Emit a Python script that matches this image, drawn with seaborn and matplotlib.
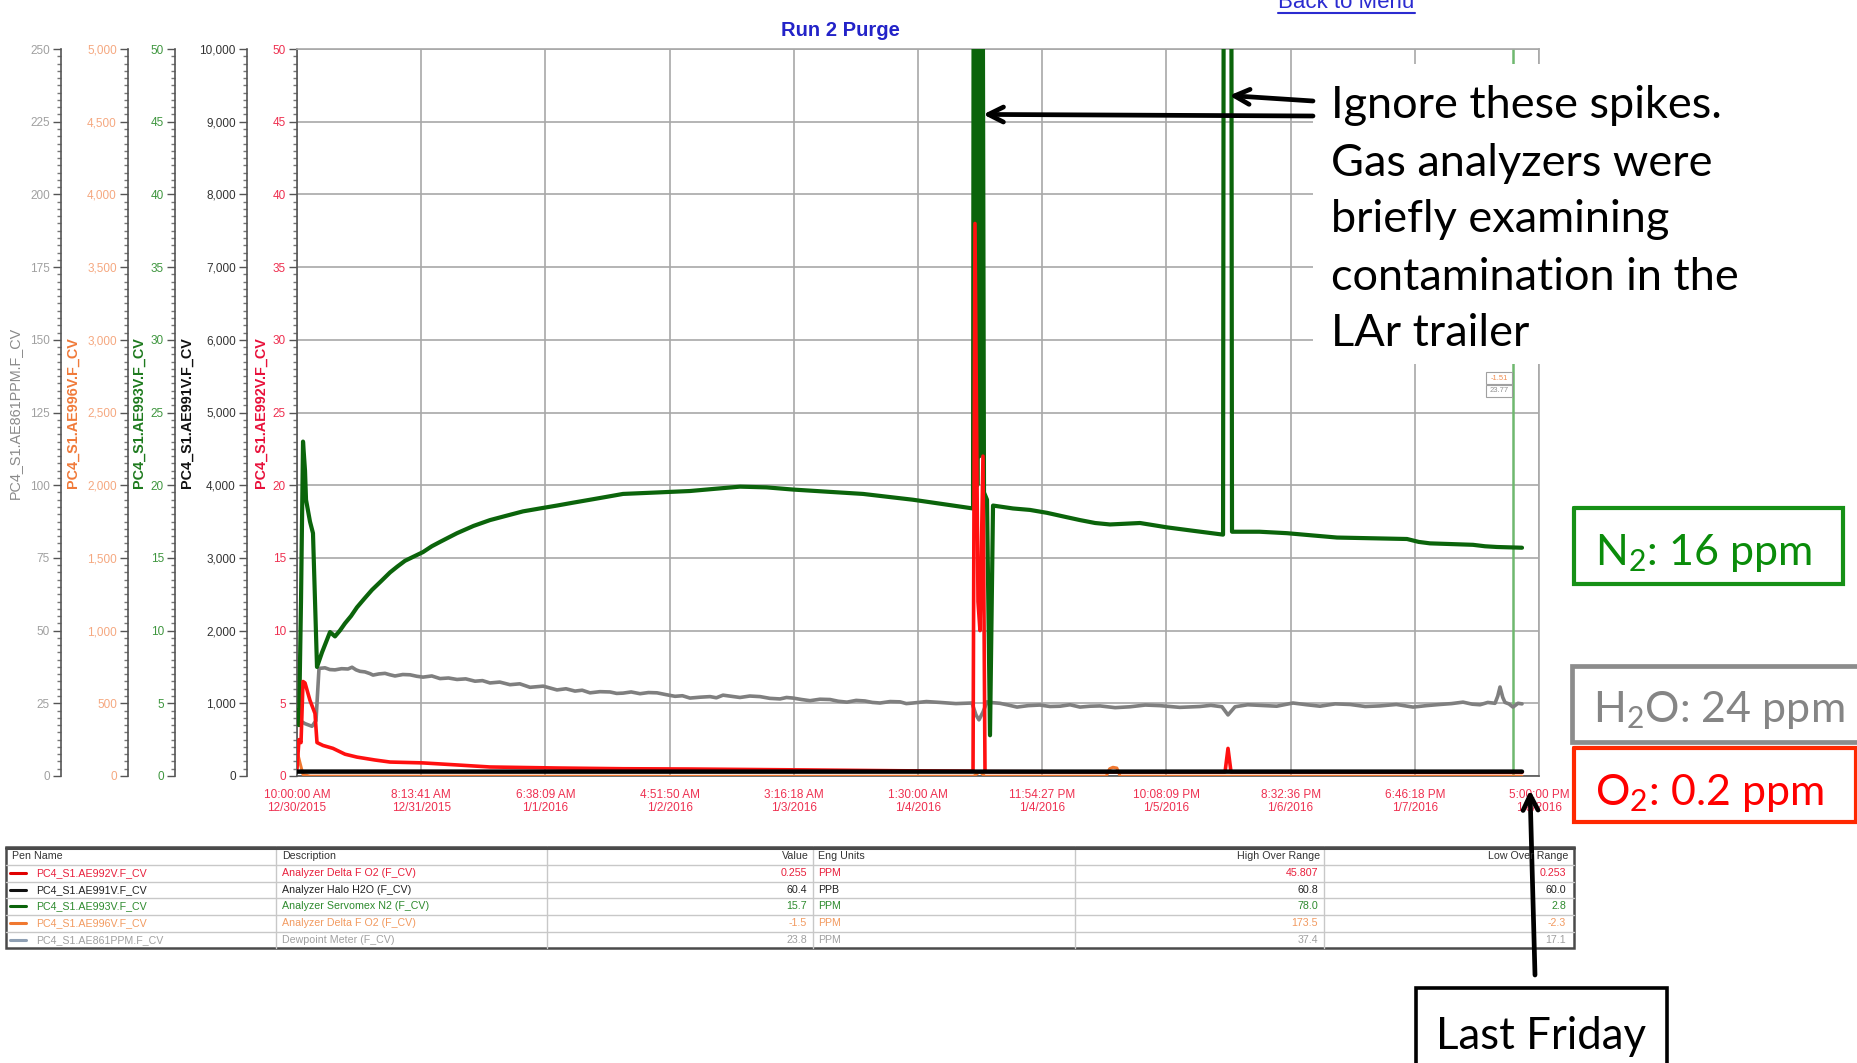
import numpy as np
import pandas as pd
import matplotlib
matplotlib.use("Agg")
import matplotlib.pyplot as plt
import seaborn as sns
from matplotlib import font_manager
from matplotlib.patches import Rectangle
from matplotlib.lines import Line2D
from matplotlib.ticker import MultipleLocator, FuncFormatter

# ------------------------------------------------------------------ data
span_hours = 223.0
x_tick_labels = ["10:00:00 AM\n12/30/2015", "8:13:41 AM\n12/31/2015", "6:38:09 AM\n1/1/2016",
                 "4:51:50 AM\n1/2/2016", "3:16:18 AM\n1/3/2016", "1:30:00 AM\n1/4/2016",
                 "11:54:27 PM\n1/4/2016", "10:08:09 PM\n1/5/2016", "8:32:36 PM\n1/6/2016",
                 "6:46:18 PM\n1/7/2016", "5:00:00 PM\n1/8/2016"]

# N2 (AE993V, ppm, 0-50 axis)
n2_t = [0.0, 0.36, 0.72, 1.08, 1.44, 1.62, 2.33, 2.87, 3.59, 4.49, 5.93, 6.82, 7.7, 8.62, 9.7,
        10.77, 12.1, 13.47, 15.1, 16.70, 18.0, 19.39, 21.0, 22.62, 24.2, 25.68, 27.2, 28.73,
        31.7, 34.65, 37.6, 40.58, 43.6, 46.68, 49.6, 52.61, 55.6, 58.54, 61.6, 64.64, 67.6,
        70.56, 75.0, 79.54, 84.3, 89.06, 95.3, 101.63, 106.1, 110.60, 116.0, 121.38,
        121.55, 121.75, 121.95, 122.15, 122.35, 122.55, 122.75, 122.99, 123.35, 123.89, 124.43,
        124.97, 128.56, 131.6, 134.66, 137.6, 140.59, 143.3, 145.97, 148.7, 151.36, 153.8,
        156.21, 161.2, 166.27, 166.45, 166.7, 166.9, 167.1, 167.3, 167.5, 167.7, 167.88,
        172.8, 177.75, 182.2, 186.73, 193.0, 199.30, 201.4, 203.43, 207.3, 211.15, 213.3,
        215.46, 219.95]
n2_ppm = [4.5, 3.5, 12.0, 23.0, 21.0, 19.0, 17.5, 16.7, 7.5, 8.5, 9.9, 9.6, 10.0, 10.5, 11.0,
          11.6, 12.2, 12.8, 13.4, 14.0, 14.4, 14.8, 15.1, 15.4, 15.8, 16.1, 16.4, 16.7,
          17.2, 17.6, 17.9, 18.2, 18.4, 18.6, 18.8, 19.0, 19.2, 19.4, 19.45, 19.5, 19.55,
          19.6, 19.75, 19.9, 19.85, 19.7, 19.55, 19.4, 19.2, 19.0, 18.7, 18.4,
          78.0, 19.0, 78.0, 20.0, 78.0, 22.0, 78.0, 78.0, 19.5, 19.0, 2.8,
          18.6, 18.4, 18.3, 18.1, 17.85, 17.6, 17.4, 17.3, 17.35, 17.4, 17.25,
          17.1, 16.85, 16.6, 78.0, 78.0, 60.0, 78.0, 62.0, 78.0, 78.0, 16.8,
          16.8, 16.7, 16.55, 16.4, 16.35, 16.3, 16.1, 16.0, 15.95, 15.9, 15.8,
          15.75, 15.7]

# Dewpoint meter (AE861PPM, ppm, 0-250 axis)
h2o_t = [0.0, 0.54, 1.44, 2.69, 3.41, 3.95, 5.03, 5.9, 6.82, 8.0, 9.16, 9.88, 10.6, 11.31, 12.2,
         13.11, 13.65, 14.7, 15.80, 16.7, 17.60, 19.0, 20.29, 21.5, 22.62, 24.2, 25.68, 27.2,
         28.73, 30.3, 31.96, 33.3, 34.65, 36.4, 38.24, 40.0, 41.84, 44.2, 46.68, 48.3, 49.91,
         51.2, 52.61, 54.4, 56.20, 57.4, 58.54, 60.0, 61.59, 63.1, 64.64, 66.2, 67.87, 69.2,
         70.56, 72.4, 74.16, 75.3, 76.49, 78.0, 79.54, 81.3, 83.13, 84.9, 86.72, 87.9, 89.06,
         90.6, 92.11, 93.9, 95.70, 97.2, 98.75, 100.4, 101.98, 103.3, 104.68, 106.5, 108.27,
         109.4, 110.60, 113.0, 115.45, 118.3, 121.20, 121.91, 122.45, 123.17, 123.89, 125.0,
         126.22, 127.7, 129.28, 131.3, 133.41, 135.2, 137.00, 138.8, 140.59, 142.4, 144.18,
         146.9, 149.57, 152.3, 154.95, 158.5, 162.13, 164.1, 166.08, 167.16, 168.42, 170.7,
         172.91, 175.9, 178.83, 181.3, 183.68, 186.4, 189.07, 191.8, 194.45, 197.4, 200.38,
         202.8, 205.23, 207.3, 209.36, 211.0, 212.41, 213.8, 215.10, 215.6, 216.00, 216.5,
         216.90, 217.6, 218.33, 219.23, 219.95]
h2o_ppm = [24.0, 19.0, 18.0, 17.1, 19.0, 37.0, 37.2, 36.6, 36.5, 36.9, 36.8, 37.4, 36.5, 36.0, 35.8,
           35.2, 34.7, 35.1, 35.3, 34.8, 34.4, 34.9, 34.8, 34.3, 34.0, 34.4, 33.5, 33.7,
           33.2, 33.4, 32.6, 32.8, 32.0, 32.3, 31.4, 31.7, 30.5, 30.9, 29.6, 30.0, 29.2,
           29.5, 28.6, 29.0, 28.9, 28.4, 28.5, 28.9, 28.3, 28.7, 28.6, 28.0, 27.4, 27.6,
           26.8, 27.1, 27.3, 26.9, 27.8, 27.4, 27.0, 27.5, 27.3, 26.7, 26.5, 27.0, 26.8,
           26.3, 25.9, 26.4, 26.3, 25.7, 25.4, 26.0, 25.8, 25.3, 25.1, 25.6, 25.5,
           24.9, 25.1, 25.6, 25.3, 24.9, 25.1, 21.0, 19.3, 22.0, 25.5, 25.2,
           25.0, 24.4, 23.7, 24.2, 24.4, 23.9, 24.0, 24.5, 23.7, 24.0, 24.1,
           23.5, 23.8, 24.4, 24.2, 23.6, 23.9, 24.3, 23.8, 21.0, 23.8, 24.5,
           24.3, 24.0, 25.1, 24.5, 24.0, 24.8, 24.6, 23.9, 24.1, 24.6, 23.7,
           24.2, 24.6, 24.9, 25.4, 24.7, 24.5, 25.3, 25.0, 27.5, 30.6, 27.0,
           25.3, 24.8, 23.7, 25.0, 24.8]

# O2 Delta F (AE992V, ppm, 0-50 axis)
o2_t = [0.0, 0.36, 0.72, 1.08, 1.44, 2.33, 3.23, 3.59, 4.67, 6.46, 8.62, 10.77, 14.00, 16.70,
        22.62, 28.73, 34.65, 46.68, 58.54, 70.56, 90.31, 108.27, 121.38, 121.73, 122.27,
        122.63, 123.17, 123.53, 144.18, 166.63, 167.16, 167.70, 198.04, 212.41, 219.95]
o2_ppm = [0.5, 2.5, 2.3, 6.5, 6.4, 5.2, 4.3, 2.3, 2.1, 1.9, 1.5, 1.3, 1.1, 0.96,
          0.9, 0.76, 0.62, 0.55, 0.50, 0.48, 0.42, 0.36, 0.33, 38.0, 12.0,
          10.0, 22.0, 0.3, 0.28, 0.28, 1.9, 0.28, 0.26, 0.253, 0.255]

# Halo H2O (AE991V, ppb, 0-10,000 axis)
halo_t = [0.0, 18.5, 41.8, 72.0, 108.0, 144.0, 180.0, 206.0, 219.95]
halo_ppb = [60.6, 60.8, 60.5, 60.3, 60.6, 60.2, 60.4, 60.0, 60.4]

# O2 Delta F (AE996V, ppm, 0-5,000 axis)
o2b_t = [0.0, 0.54, 1.08, 2.33, 50.0, 72.0, 121.5, 122.6, 123.5, 145.3, 145.9, 146.5, 147.2,
         147.8, 180.0, 219.95]
o2b_ppm = [173.5, 90.0, 10.0, -1.0, -1.6, -2.3, -1.4, 30.0, -1.5, -1.2, 50.0, 60.0, 55.0,
           -1.4, -1.6, -1.5]

cursor_hours = 218.3
cursor_values = ["-1.51", "23.77"]

# legend table
pen_names = ["PC4_S1.AE992V.F_CV", "PC4_S1.AE991V.F_CV", "PC4_S1.AE993V.F_CV",
             "PC4_S1.AE996V.F_CV", "PC4_S1.AE861PPM.F_CV"]
descriptions = ["Analyzer Delta F O2 (F_CV)", "Analyzer Halo H2O (F_CV)",
                "Analyzer Servomex N2 (F_CV)", "Analyzer Delta F O2 (F_CV)", "Dewpoint Meter (F_CV)"]
cur_values = ["0.255", "60.4", "15.7", "-1.5", "23.8"]
eng_units = ["PPM", "PPB", "PPM", "PPM", "PPM"]
high_range = ["45.807", "60.8", "78.0", "173.5", "37.4"]
low_range = ["0.253", "60.0", "2.8", "-2.3", "17.1"]

# ------------------------------------------------------------------ style
sns.set_theme(style="white")
avail = {f.name for f in font_manager.fontManager.ttflist}
NARROW = "Liberation Sans Narrow" if "Liberation Sans Narrow" in avail else "Liberation Sans"
k = 1.0 if NARROW == "Liberation Sans Narrow" else 0.85
plt.rcParams["font.family"] = [NARROW, "DejaVu Sans"]
plt.rcParams["mathtext.fontset"] = "custom"
plt.rcParams["mathtext.rm"] = "Lato"
plt.rcParams["mathtext.it"] = "Lato:italic"
plt.rcParams["mathtext.bf"] = "Lato:bold"

W, H = 1858, 1063
fig = plt.figure(figsize=(W / 100, H / 100), dpi=100)
fig.patch.set_facecolor("white")


def rect(l, t, r, b):
    return [l / W, 1 - b / H, (r - l) / W, (b - t) / H]


GRID = "#a8a8a8"
RED_T = "#ee3050"
LABEL_FS = 10.4
ax = fig.add_axes(rect(297, 49, 1539, 776))
ax.set_xlim(0, span_hours)
ax.set_ylim(0, 50)
ax.set_xticks(np.linspace(0, span_hours, len(x_tick_labels)))
ax.set_xticklabels(x_tick_labels, color=RED_T, fontsize=10 * k, linespacing=1.15)
ax.xaxis.set_minor_locator(MultipleLocator(span_hours / 100))
ax.yaxis.set_major_locator(MultipleLocator(5))
ax.yaxis.set_minor_locator(MultipleLocator(0.5))
ax.grid(True, which="major", color=GRID, lw=1.2)
ax.tick_params(axis="x", which="major", length=6, width=1, color="#555", pad=3)
ax.tick_params(axis="x", which="minor", length=3, width=1, color="#777")
ax.tick_params(axis="y", which="major", length=6, width=1, color="#555", labelcolor=RED_T,
               labelsize=10 * k, pad=2)
ax.tick_params(axis="y", which="minor", length=3, width=1, color="#777")
ax.yaxis.set_major_formatter(FuncFormatter(lambda v, p: f"{v:.0f}"))
for s in ["top", "right"]:
    ax.spines[s].set_color(GRID)
    ax.spines[s].set_linewidth(1.2)
for s in ["left", "bottom"]:
    ax.spines[s].set_color("#555")
    ax.spines[s].set_linewidth(1.2)
ax.set_ylabel("PC4_S1.AE992V.F_CV", color="#e8103a", fontweight="bold",
              fontsize=LABEL_FS, family="Liberation Sans")
ax.yaxis.set_label_coords((268 - 297) / 1242, 0.5)
ax.axvline(cursor_hours, color="#6fb86f", lw=1.8, zorder=1)


def make_twin(anchor_px, label_px, lim, major, minor, tcolor, label, lcolor, bold, fmt):
    t = ax.twinx()
    t.set_ylim(*lim)
    for s in ["top", "bottom", "right"]:
        t.spines[s].set_visible(False)
    t.spines["left"].set_visible(True)
    t.spines["left"].set_color("#555")
    t.spines["left"].set_linewidth(1.2)
    t.spines["left"].set_position(("axes", (anchor_px - 297) / 1242))
    t.yaxis.set_ticks_position("left")
    t.yaxis.set_label_position("left")
    t.yaxis.set_major_locator(MultipleLocator(major))
    t.yaxis.set_minor_locator(MultipleLocator(minor))
    t.yaxis.set_major_formatter(FuncFormatter(fmt))
    t.tick_params(axis="y", which="major", length=6, width=1, color="#555", labelcolor=tcolor,
                  labelsize=10 * k, pad=2)
    t.tick_params(axis="y", which="minor", length=3, width=1, color="#777")
    t.set_ylabel(label, color=lcolor, fontweight="bold" if bold else "normal",
                 fontsize=LABEL_FS, family="Liberation Sans")
    t.yaxis.set_label_coords((label_px - 297) / 1242, 0.5)
    return t


fmt_int = lambda v, p: f"{v:,.0f}"
ax_h2o = make_twin(61, 22, (0, 250), 25, 2.5, "#a0a0a0", "PC4_S1.AE861PPM.F_CV", "#8a8a8a", False, fmt_int)
ax_o2b = make_twin(128, 80, (0, 5000), 500, 50, "#f5a880", "PC4_S1.AE996V.F_CV", "#f07a3a", True, fmt_int)
ax_n2 = make_twin(175, 146, (0, 50), 5, 0.5, "#3f963f", "PC4_S1.AE993V.F_CV", "#1e7a1e", True, fmt_int)
ax_o2 = ax.twinx()
ax_o2.set_ylim(0, 50)
ax_o2.axis("off")
ax_halo = make_twin(247, 194, (0, 10000), 1000, 100, "#333333", "PC4_S1.AE991V.F_CV", "#111111", True, fmt_int)

# draw order: gray, orange, green, red, black
sns.lineplot(x=h2o_t, y=h2o_ppm, ax=ax_h2o, color="#7f7f7f", lw=2.6, estimator=None)
sns.lineplot(x=o2b_t, y=o2b_ppm, ax=ax_o2b, color="#f07830", lw=2.2, estimator=None)
sns.lineplot(x=n2_t, y=n2_ppm, ax=ax_n2, color="#0b640b", lw=3.0, estimator=None)
sns.lineplot(x=o2_t, y=o2_ppm, ax=ax_o2, color="#ff1010", lw=2.6, estimator=None)
sns.lineplot(x=halo_t, y=halo_ppb, ax=ax_halo, color="#000000", lw=3.2, estimator=None)
for a, lim in [(ax_h2o, (0, 250)), (ax_n2, (0, 50)), (ax_o2b, (0, 5000)), (ax_o2, (0, 50)),
               (ax_halo, (0, 10000))]:
    a.set_ylim(*lim)
    a.set_xlim(0, span_hours)
    a.set_xlabel("")

# ------------------------------------------------------------------ overlay (pixel coords)
ov = fig.add_axes([0, 0, 1, 1])
ov.set_xlim(0, W)
ov.set_ylim(H, 0)
ov.axis("off")
ov.set_zorder(10)
ov.patch.set_alpha(0)

# title and link
ov.text(840, 31, "Run 2 Purge", color="#2323c8", fontsize=14.5, fontweight="bold",
        ha="center", va="center")
ov.text(1346, 8, "Back to Menu", color="#2b2bd0", fontsize=16, family="Liberation Sans",
        ha="center", va="baseline")
ov.add_line(Line2D([1278, 1415], [13, 13], color="#2b2bd0", lw=1.5))

# cursor readout boxes
for i, (txt, col) in enumerate(zip(cursor_values, ["#f08c50", "#909090"])):
    y0 = 372 + i * 13
    ov.add_patch(Rectangle((1486, y0), 26, 12, fc="white", ec="#a0a0a0", lw=0.8))
    ov.text(1499, y0 + 6, txt, color=col, fontsize=5.5, ha="center", va="center")

# white annotation box with text
ov.add_patch(Rectangle((1313, 64), 460, 300, fc="white", ec="none"))
ann_lines = ["Ignore these spikes.", "Gas analyzers were", "briefly examining",
             "contamination in the", "LAr trailer"]
for i, line in enumerate(ann_lines):
    ov.text(1331, 118.5 + i * 57, line, family="Lato", fontsize=32.5, color="black",
            ha="left", va="baseline")

# arrows to the spikes
arrow_kw = dict(arrowstyle="->,head_length=0.9,head_width=0.45", color="black", lw=3.4,
                shrinkA=0, shrinkB=0)
ov.annotate("", xy=(123.2, 45.5), xycoords=ax_n2.transData, xytext=(1313, 116),
            textcoords="data", arrowprops=arrow_kw)
ov.annotate("", xy=(167.4, 46.8), xycoords=ax_n2.transData, xytext=(1313, 101),
            textcoords="data", arrowprops=arrow_kw)


# value boxes on right
def value_box(x0, y0, x1, y1, ec, lw, text, tcolor, tx, ty, open_right=False):
    xs = [x1, x0, x0, x1] if open_right else [x0, x1, x1, x0, x0]
    ys = [y0, y0, y1, y1] if open_right else [y0, y0, y1, y1, y0]
    ov.add_line(Line2D(xs, ys, color=ec, lw=lw, solid_joinstyle="miter"))
    ov.text(tx, ty, text, family="Lato", fontsize=31, color=tcolor, ha="left", va="baseline")


value_box(1574, 508, 1843, 584, "#169016", 3.0, r"N$_2$: 16 ppm", "#0a8c0a", 1595, 565)
value_box(1572, 666, 1858, 742, "#8c8c8c", 3.4, r"H$_2$O: 24 ppm", "#858585", 1593, 722, open_right=True)
value_box(1574, 748, 1856, 822, "#ff2800", 3.0, r"O$_2$: 0.2 ppm", "#ff0000", 1595, 805)

# Last Friday
ov.add_line(Line2D([1416, 1416, 1667, 1667], [1066, 988, 988, 1066], color="black", lw=2.6,
                   solid_joinstyle="miter"))
ov.text(1541, 1049, "Last Friday", family="Lato", fontsize=31.5, color="black",
        ha="center", va="baseline")
ov.annotate("", xy=(1530, 790), xytext=(1535, 975), textcoords="data", arrowprops=arrow_kw)

# legend table
tl, tr, tt, tb = 6, 1574, 847, 948
row_y = [873, 890, 906, 923, 940]
sep_y = [864.5, 881.5, 898, 914.5, 931.5]
col_x = [276, 547, 813, 1075, 1324]
row_text_col = ["#e8203c", "#222222", "#2e8b2e", "#f29a60", "#a0a0a0"]
row_line_col = ["#e00000", "#111111", "#0b640b", "#f07830", "#8fa0b4"]
for y in sep_y:
    ov.add_line(Line2D([tl, tr], [y, y], color="#c8c8c8", lw=1.0))
for x in col_x:
    ov.add_line(Line2D([x, x], [tt, tb], color="#c8c8c8", lw=1.0))
ov.add_patch(Rectangle((tl, tt), tr - tl, tb - tt, fc="none", ec="#4a4a4a", lw=1.8))
ov.add_line(Line2D([tl, tr], [tt + 1, tt + 1], color="#4a4a4a", lw=2.2))
fs_tab = 7.7
hy = 856
ov.text(12, hy, "Pen Name", fontsize=fs_tab, color="#333", va="center", ha="left")
ov.text(282, hy, "Description", fontsize=fs_tab, color="#333", va="center", ha="left")
ov.text(809, hy, "Value", fontsize=fs_tab, color="#333", va="center", ha="right")
ov.text(818, hy, "Eng Units", fontsize=fs_tab, color="#333", va="center", ha="left")
ov.text(1320, hy, "High Over Range", fontsize=fs_tab, color="#333", va="center", ha="right")
ov.text(1568, hy, "Low Over Range", fontsize=fs_tab, color="#333", va="center", ha="right")
for i, y in enumerate(row_y):
    c = row_text_col[i]
    ov.add_line(Line2D([10, 26], [y, y], color=row_line_col[i], lw=2.2))
    ov.text(36, y, pen_names[i], fontsize=fs_tab, color=c, va="center", ha="left")
    ov.text(282, y, descriptions[i], fontsize=fs_tab, color=c, va="center", ha="left")
    ov.text(807, y, cur_values[i], fontsize=fs_tab, color=c, va="center", ha="right")
    ov.text(818, y, eng_units[i], fontsize=fs_tab, color=c, va="center", ha="left")
    ov.text(1318, y, high_range[i], fontsize=fs_tab, color=c, va="center", ha="right")
    ov.text(1566, y, low_range[i], fontsize=fs_tab, color=c, va="center", ha="right")

fig.savefig("out.png", dpi=100, facecolor="white")
